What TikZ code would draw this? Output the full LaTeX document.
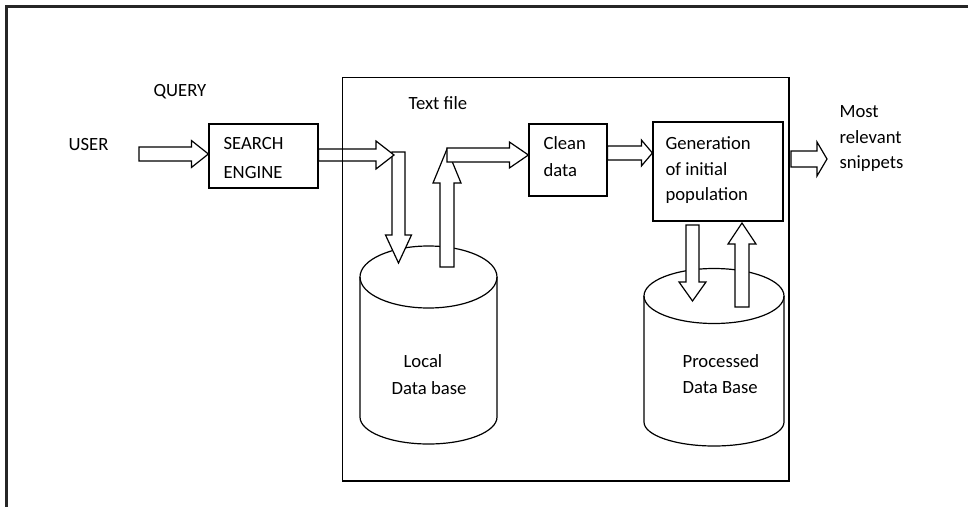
\documentclass[tikz,border=0pt]{standalone}
\usepackage{fontspec}
\setmainfont{Carlito}
\usetikzlibrary{calc}

% Hollow block arrow from tail #1 to tip #2;
% #3 = shaft half width, #4 = head half width, #5 = head length (all in px)
\newcommand{\blockarrow}[5]{%
  \pgfmathsetlengthmacro\bas{#3*0.75pt}%
  \pgfmathsetlengthmacro\bah{#4*0.75pt}%
  \pgfmathsetlengthmacro\bal{#5*0.75pt}%
  \coordinate (abase) at ($(#2)!\bal!(#1)$);
  \draw[arrowbody] ($(#1)!\bas!90:(#2)$) -- ($(abase)!\bas!-90:(#1)$)
    -- ($(abase)!\bah!-90:(#1)$) -- (#2) -- ($(abase)!\bah!90:(#1)$)
    -- ($(abase)!\bas!90:(#1)$) -- ($(#1)!\bas!-90:(#2)$) -- cycle;
}

\begin{document}
\begin{tikzpicture}[x=0.75pt,y=-0.75pt,
  line width=0.9pt,
  box/.style={draw, inner sep=0pt, fill=white},
  arrowbody/.style={draw, fill=white, line join=miter},
  lbl/.style={inner sep=0pt, anchor=base west, font=\fontsize{14}{17}\selectfont},
  frameline/.style={line width=1.7pt, draw=black!85}]

\useasboundingbox (0,0) rectangle (968,507);

% outer frame (top and left edges only)
\draw[frameline] (6.5,507) -- (6.5,6.5) -- (968,6.5);

% boxes
\node[box, minimum width=109*0.75pt, minimum height=64*0.75pt] (se) at (263.5,156) {};
\node[box, minimum width=78*0.75pt, minimum height=72*0.75pt] (clean) at (568,160) {};
\node[box, minimum width=130*0.75pt, minimum height=99*0.75pt] (gen) at (718,171.5) {};

% local database cylinder
\draw (360,277) -- (360,417) arc[start angle=180, end angle=360, x radius=68.5*0.75pt, y radius=27*0.75pt] -- (497,277);
\draw (428.5,277) ellipse [x radius=68.5*0.75pt, y radius=31*0.75pt];
\coordinate (localdb) at (428.5,277);

% processed database cylinder
\draw (644,296) -- (644,422) arc[start angle=180, end angle=360, x radius=70*0.75pt, y radius=24*0.75pt] -- (784,296);
\draw (714,296) ellipse [x radius=70*0.75pt, y radius=27.5*0.75pt];
\coordinate (procdb) at (714,296);

% arrow end points
\coordinate (u0) at (139,154);
\coordinate (u1) at ($(se.west)+(0,-2)$);
\coordinate (s0) at ($(se.east)+(0,-1)$);
\coordinate (s1) at (394,155);
\coordinate (d0) at (398.5,152);
\coordinate (d1) at (398.5,263);
\coordinate (r0) at (447,267);
\coordinate (r1) at (447,149);
\coordinate (c0) at (447,155);
\coordinate (c1) at ($(clean.west)+(0,-5)$);
\coordinate (g0) at ($(clean.east)+(0,-7)$);
\coordinate (g1) at ($(gen.west)+(0,-18.5)$);
\coordinate (o0) at (791,159);
\coordinate (o1) at (827,159);
\coordinate (p0) at (692.5,225);
\coordinate (p1) at (692.5,301);
\coordinate (q0) at (742,307);
\coordinate (q1) at (742,223);

% block arrows
\blockarrow{u0}{u1}{7}{13.5}{17}
\blockarrow{d0}{d1}{6.5}{13}{28}
\blockarrow{s0}{s1}{6}{14}{18}
\blockarrow{r0}{r1}{7}{14}{34}
\blockarrow{c0}{c1}{7}{13}{19}
\blockarrow{g0}{g1}{7}{13}{11}
\blockarrow{o0}{o1}{8}{17}{10}
\blockarrow{p0}{p1}{6.5}{13.5}{19}
\blockarrow{q0}{q1}{7}{14}{21}

% text file container
\node[draw, inner sep=0pt, minimum width=446.5*0.75pt, minimum height=403.5*0.75pt] (textfile) at (565.75,279.25) {};

% labels
\node[lbl] (tquery) at (153,96) {QUERY};
\node[lbl] (tuser) at (68,150) {USER};
\node[lbl] (tse1) at (223,149) {SEARCH};
\node[lbl] (tse2) at (223,178) {ENGINE};
\node[lbl] (ttext) at (408,109) {Text file};
\node[lbl] (tclean1) at (543,149) {Clean};
\node[lbl] (tclean2) at (543,176) {data};
\node[lbl] (tgen1) at (665,149) {Generation};
\node[lbl] (tgen2) at (665,175) {of initial};
\node[lbl] (tgen3) at (665,200) {population};
\node[lbl] (tout1) at (839,117) {Most};
\node[lbl] (tout2) at (839,143) {relevant};
\node[lbl] (tout3) at (839,168) {snippets};
\node[lbl] (tlocal1) at (403,367) {Local};
\node[lbl] (tlocal2) at (391,394) {Data base};
\node[lbl] (tproc1) at (682,367) {Processed};
\node[lbl] (tproc2) at (682,393) {Data Base};

\end{tikzpicture}
\end{document}
